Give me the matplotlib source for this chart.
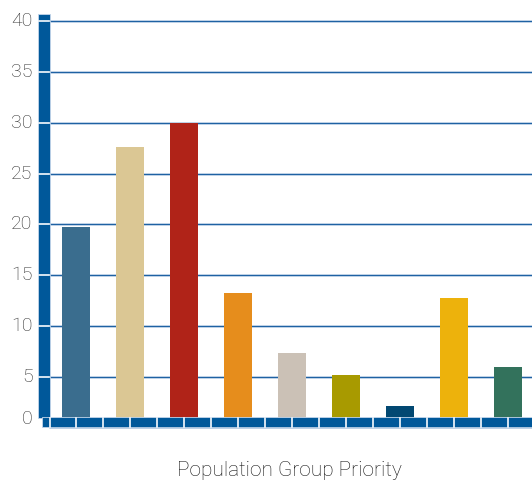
import matplotlib
matplotlib.use("Agg")
import matplotlib.pyplot as plt
from matplotlib.patches import Rectangle
import numpy as np

# Data
groups = ["G1", "G2", "G3", "G4", "G5", "G6", "G7", "G8", "G9"]
values = [19.7, 27.6, 30.0, 13.2, 7.3, 5.2, 2.1, 12.8, 6.0]
colors = ["#3a6d8e", "#dbc794", "#b02318", "#e68d1c", "#cbc1b6",
          "#a89a00", "#024872", "#edb20c", "#33725c"]
yticks = [0, 5, 10, 15, 20, 25, 30, 35, 40]
xlabel = "Population Group Priority"

AXIS_BLUE = "#00589a"
GRID_BLUE = "#1f62a3"
HALO = "#c4d6ea"
FONT = "Roboto"

W, H = 532, 483
fig = plt.figure(figsize=(W / 100, H / 100), dpi=100)

# axes box in pixel units
x0, x1 = 49.5, 532
y_top, y_zero = 21.5, 427.4
ax = fig.add_axes([x0 / W, 1 - y_zero / H, (x1 - x0) / W, (y_zero - y_top) / H])
ax.set_xlim(-0.5, (x1 - 76) / 54)
ax.set_ylim(0, 40)
for s in ax.spines.values():
    s.set_visible(False)
ax.set_xticks([])
ax.set_yticks([])

xpos = np.arange(len(values))

# gridlines
for t in yticks:
    ax.axhline(t, color=HALO, lw=1.9, zorder=1, clip_on=False)
    ax.axhline(t, color=GRID_BLUE, lw=0.85, zorder=1.1, clip_on=False)

ax.bar(xpos, values, width=28 / 54, color=colors, zorder=2)

# pixel -> figure fraction helpers
def fx(px):
    return px / W

def fy(py):
    return 1 - py / H

# vertical axis bar
fig.add_artist(Rectangle((fx(38.3), fy(418)), fx(49.5) - fx(38.3), fy(14) - fy(418),
                         transform=fig.transFigure, facecolor=AXIS_BLUE,
                         edgecolor=HALO, lw=0.6, zorder=5))
# horizontal axis bar
fig.add_artist(Rectangle((fx(41.5), fy(427.4)), fx(532) - fx(41.5), fy(417) - fy(427.4),
                         transform=fig.transFigure, facecolor=AXIS_BLUE,
                         edgecolor=HALO, lw=0.6, zorder=5))

# white separators on the horizontal bar at every half category
sep_x = np.arange(-0.5, len(values), 0.5)
for sx in sep_x:
    px = ax.transData.transform((sx, 0))[0]
    fig.add_artist(plt.Line2D([px / W, px / W], [fy(427), fy(417.5)],
                              transform=fig.transFigure, color="#e6eef7",
                              lw=1.3, zorder=6))

# white separators on the vertical bar at each tick
for t in yticks[1:]:
    py = ax.transData.transform((0, t))[1]
    fig.add_artist(plt.Line2D([fx(38.5), fx(49.3)], [py / fig.bbox.height] * 2,
                              transform=fig.transFigure, color="#e6eef7",
                              lw=1.3, zorder=6))

# y tick labels
for t in yticks:
    py = ax.transData.transform((0, t))[1] / fig.bbox.height
    if t == 0:
        py = fy(419)
    fig.text(fx(32.5), py, str(t), ha="right", va="center", fontsize=14,
             color="#2e2e2e", family=FONT, weight="light")

fig.text(fx(289.5), fy(470), xlabel, ha="center", va="center", fontsize=15,
         color="#111111", family=FONT, weight="light")

fig.savefig("out.png", dpi=100)
